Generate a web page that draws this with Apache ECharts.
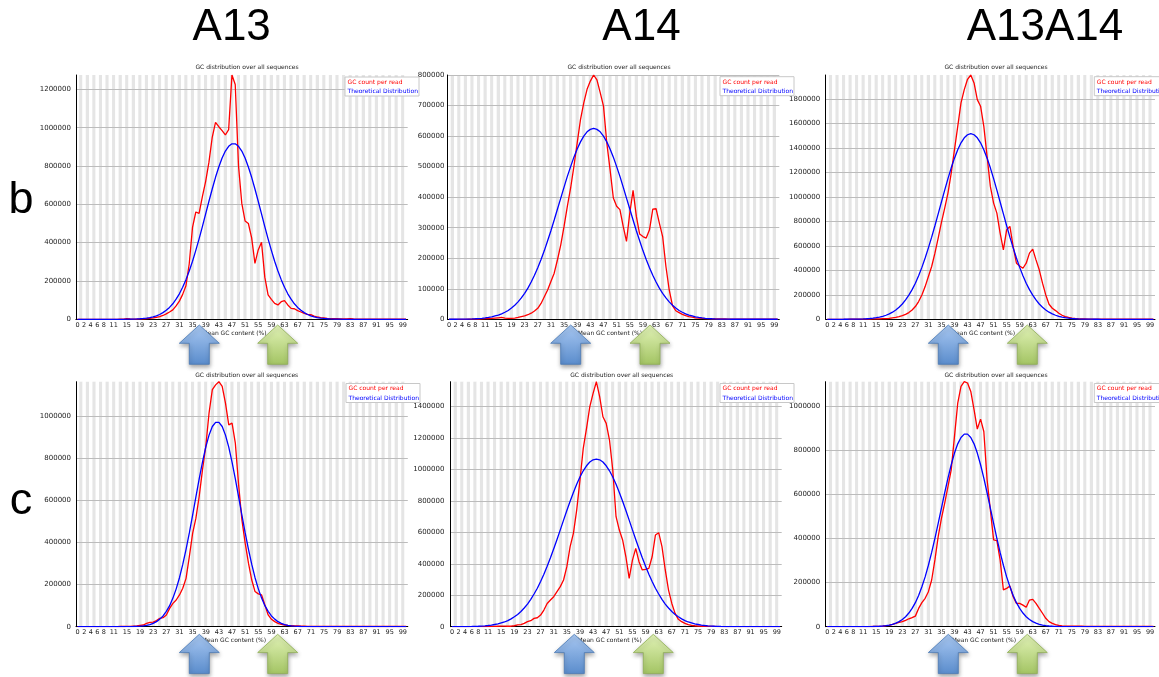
<!DOCTYPE html>
<html><head><meta charset="utf-8">
<script src="https://cdn.jsdelivr.net/npm/echarts@6/dist/echarts.min.js"></script>
<style>html,body{margin:0;padding:0;background:#fff}#c{width:1159px;height:677px}</style>
</head><body><div id="c"></div><script>
// ---------------- DATA ----------------
const gcCategories = [0,1,2,3,4,5,6,7,8,9,10,11,12,13,14,15,16,17,18,19,20,21,22,23,24,25,26,27,28,29,30,31,32,33,34,35,36,37,38,39,40,41,42,43,44,45,46,47,48,49,50,51,52,53,54,55,56,57,58,59,60,61,62,63,64,65,66,67,68,69,70,71,72,73,74,75,76,77,78,79,80,81,82,83,84,85,86,87,88,89,90,91,92,93,94,95,96,97,98,99,100];
const xTickLabels = [0,2,4,6,8,11,15,19,23,27,31,35,39,43,47,51,55,59,63,67,71,75,79,83,87,91,95,99];
const columnHeaders = ['A13','A14','A13A14'];
const rowLabels = ['b','c'];
const seriesNames = ['GC count per read','Theoretical Distribution'];
const chartTitle = 'GC distribution over all sequences';
const xAxisName = 'Mean GC content (%)';

const b_A13_gc = [0,0,0,0,0,0,0,0,0,0,
 0,0,0,500,1000,4000,2000,1000,1000,2000,
 2000,3000,5000,7000,10000,14000,20000,28000,38000,49000,
 70000,95000,130000,175000,290000,480000,560000,553000,640000,720000,
 820000,950000,1028000,1005000,985000,962000,990000,1275000,1225000,800000,
 605000,513000,500000,425000,292000,362000,402000,220000,127000,104000,
 83000,75000,92000,97000,75000,57000,55000,45000,38000,31000,
 26000,24000,17000,12000,9000,7000,5000,4000,3000,3000,
 2000,2000,2000,4000,2000,1000,1000,1000,1000,1000,
 1000,1000,1000,1000,1000,1000,1000,1000,1000,1000,1000];
const b_A13_theo = [0,0,0,0,0,0,0,0,0,0,
 0,0,0,0,0,500,800,1300,1900,2900,
 4300,6300,9000,13000,18000,25000,35000,47000,62000,81000,
 105000,133000,167000,207000,252000,303000,360000,420000,484000,550000,
 616000,680000,741000,795000,842000,878000,903000,916000,916000,903000,
 878000,842000,795000,741000,680000,616000,550000,484000,420000,360000,
 303000,252000,207000,167000,133000,105000,81000,62000,47000,35000,
 25000,18000,13000,9000,6300,4300,2900,1900,1300,800,
 500,0,0,0,0,0,0,0,0,0,
 0,0,0,0,0,0,0,0,0,0,0];
const b_A14_gc = [0,0,0,0,0,0,500,500,1000,1000,
 1500,2000,2500,3000,4000,5000,6000,4000,3000,3000,
 4000,6000,9000,11000,15000,20000,27000,36000,52000,74000,
 96000,124000,151000,195000,244000,304000,370000,430000,501000,578000,
 654000,709000,753000,780000,800000,784000,742000,698000,578000,490000,
 397000,370000,359000,304000,255000,348000,422000,337000,279000,271000,
 266000,293000,361000,362000,315000,271000,173000,96000,45000,28000,
 22000,16000,12000,9000,7000,5000,4000,3000,2000,2000,
 1500,1500,1000,1000,1000,500,500,500,500,500,
 500,500,500,500,500,500,500,500,500,500,500];
const b_A14_theo = [100,100,200,300,400,600,900,1300,1800,2400,
 3300,4500,6000,8000,11000,14000,18000,23000,29000,37000,
 46000,57000,70000,85000,102000,122000,144000,169000,196000,225000,
 257000,290000,325000,361000,397000,433000,468000,500000,531000,558000,
 581000,600000,614000,622000,625000,622000,614000,600000,581000,558000,
 531000,500000,468000,433000,397000,361000,325000,290000,257000,225000,
 196000,169000,144000,122000,102000,85000,70000,57000,46000,37000,
 29000,23000,18000,14000,11000,8000,6000,4500,3300,2400,
 1800,1300,900,600,400,300,200,100,100,100,
 100,100,100,100,100,100,100,100,100,100,100];
const b_A13A14_gc = [0,0,0,0,0,0,0,500,500,1000,
 1000,1500,2000,2500,3000,4000,4000,5000,6000,8000,
 12000,16000,22000,30000,40000,55000,76000,104000,145000,199000,
 267000,349000,431000,540000,663000,791000,908000,1031000,1194000,1385000,
 1576000,1767000,1876000,1960000,1995000,1930000,1794000,1740000,1576000,1331000,
 1085000,949000,867000,704000,567000,731000,758000,594000,458000,436000,
 417000,458000,540000,573000,485000,404000,295000,199000,123000,90000,
 71000,49000,33000,22000,15000,10000,7000,5000,4000,3000,
 2000,2000,2000,2000,2000,1000,1000,1000,1000,1000,
 1000,1000,1000,1000,1000,1000,1000,1000,1000,1000,1000];
const b_A13A14_theo = [100,100,100,200,200,300,500,700,1000,1500,
 2200,3200,4600,6600,9300,13000,18000,24000,33000,44000,
 58000,76000,98000,125000,158000,197000,242000,295000,356000,424000,
 500000,583000,671000,764000,861000,958000,1055000,1149000,1237000,1316000,
 1385000,1441000,1482000,1507000,1516000,1507000,1482000,1441000,1385000,1316000,
 1237000,1149000,1055000,958000,861000,764000,671000,583000,500000,424000,
 356000,295000,242000,197000,158000,125000,98000,76000,58000,44000,
 33000,24000,18000,13000,9300,6600,4600,3200,2200,1500,
 1000,700,500,300,200,200,100,100,100,100,
 100,100,100,100,100,100,100,100,100,100,100];
const c_A13_gc = [0,0,0,0,0,0,0,0,0,0,
 0,500,500,1000,1000,1500,2000,3000,4000,6000,
 8000,16000,21000,22000,29000,40000,43000,56000,87000,111000,
 127000,151000,183000,230000,333000,444000,516000,619000,746000,857000,
 1016000,1127000,1150000,1165000,1143000,1063000,960000,968000,873000,675000,
 508000,397000,302000,222000,167000,156000,151000,103000,56000,35000,
 24000,16000,11000,8000,6000,5000,4000,4000,3000,3000,
 2000,1000,1000,1000,1000,1000,1000,1000,1000,1000,
 1000,1000,1000,1000,1000,1000,1000,1000,1000,1000,
 1000,1000,1000,1000,1000,1000,1000,1000,1000,1000,1000];
const c_A13_theo = [100,100,100,100,100,100,100,100,100,100,
 100,100,100,100,200,300,500,900,1500,2500,
 4100,6600,10000,16000,24000,36000,51000,73000,100000,136000,
 180000,233000,296000,368000,446000,531000,617000,703000,783000,854000,
 911000,952000,972000,972000,952000,911000,854000,783000,703000,617000,
 531000,446000,368000,296000,233000,180000,136000,100000,73000,51000,
 36000,24000,16000,10000,6600,4100,2500,1500,900,500,
 300,200,100,100,100,100,100,100,100,100,
 100,100,100,100,100,100,100,100,100,100,
 100,100,100,100,100,100,100,100,100,100,100];
const c_A14_gc = [0,0,0,0,0,0,0,0,0,500,
 1000,1000,1500,2000,3000,4000,4000,3000,3000,6000,
 11000,13000,21000,32000,38000,53000,57000,74000,106000,148000,
 170000,191000,223000,255000,297000,382000,509000,594000,742000,933000,
 1135000,1262000,1400000,1485000,1559000,1464000,1336000,1294000,1188000,997000,
 700000,615000,552000,445000,308000,424000,498000,414000,361000,365000,
 371000,445000,583000,598000,509000,361000,233000,148000,85000,47000,
 32000,21000,13000,9000,6000,4000,3000,2000,2000,2000,
 2000,1000,1000,1000,1000,1000,1000,1000,1000,1000,
 1000,1000,1000,1000,1000,1000,1000,1000,1000,1000,1000];
const c_A14_theo = [200,300,400,500,800,1100,1500,2100,3000,4100,
 5600,7600,10000,14000,18000,24000,30000,39000,50000,63000,
 78000,97000,119000,144000,174000,208000,245000,288000,334000,385000,
 439000,496000,555000,616000,678000,739000,798000,854000,906000,953000,
 992000,1024000,1048000,1062000,1067000,1062000,1048000,1024000,992000,953000,
 906000,854000,798000,739000,678000,616000,555000,496000,439000,385000,
 334000,288000,245000,208000,174000,144000,119000,97000,78000,63000,
 50000,39000,30000,24000,18000,14000,10000,7600,5600,4100,
 3000,2100,1500,1100,800,500,400,300,200,100,
 100,100,100,100,100,100,100,100,100,100,100];
const c_A13A14_gc = [0,0,0,0,0,0,0,0,0,0,
 0,0,0,500,1000,1000,1500,2000,5000,6000,
 11000,15000,20000,23000,29000,36000,41000,48000,83000,109000,
 129000,159000,212000,303000,409000,492000,561000,636000,712000,864000,
 1015000,1091000,1112000,1106000,1068000,985000,897000,942000,886000,667000,
 530000,394000,391000,303000,167000,174000,185000,136000,106000,106000,
 98000,88000,121000,124000,106000,83000,61000,38000,23000,15000,
 9000,6000,4000,3000,2000,2000,2000,2000,2000,1000,
 1000,1000,1000,1000,1000,1000,1000,1000,1000,1000,
 1000,1000,1000,1000,1000,1000,1000,1000,1000,1000,1000];
const c_A13A14_theo = [100,100,100,100,100,100,100,100,100,100,
 100,200,300,500,800,1300,2000,3100,4800,7300,
 11000,16000,23000,33000,45000,62000,83000,109000,142000,181000,
 226000,279000,337000,401000,469000,538000,608000,674000,735000,788000,
 830000,859000,874000,874000,859000,830000,788000,735000,674000,608000,
 538000,469000,401000,337000,279000,226000,181000,142000,109000,83000,
 62000,45000,33000,23000,16000,11000,7300,4800,3100,2000,
 1300,800,500,300,200,100,100,100,100,100,
 100,100,100,100,100,100,100,100,100,100,
 100,100,100,100,100,100,100,100,100,100,100];

// ---------------- LAYOUT ----------------
const panels = [
 {gc:b_A13_gc, theo:b_A13_theo, max:1275000, step:200000, left:75.9, top:75, w:331.8, h:244.3, lm:5, tx:247, ty:67, nx:234.5, ny:333.3, lx:345, ly:77, ax:[199.3,277.7], ay:325},
 {gc:b_A14_gc, theo:b_A14_theo, max:800000, step:100000, left:447.4, top:75, w:331.9, h:244.3, lm:3, tx:619, ty:67, nx:610, ny:333.3, lx:720, ly:76.7, ax:[570.7,650], ay:325},
 {gc:b_A13A14_gc, theo:b_A13A14_theo, max:1995000, step:200000, left:825.7, top:75, w:329.3, h:244.3, lm:5.5, tx:996, ty:67, nx:983, ny:333.3, lx:1094.3, ly:76.7, ax:[948.3,1027.3], ay:325},
 {gc:c_A13_gc, theo:c_A13_theo, max:1165000, step:200000, left:76, top:381.7, w:331.8, h:245, lm:5, tx:246.7, ty:375, nx:234, ny:640.7, lx:346, ly:383.5, ax:[199.3,277.7], ay:634.3},
 {gc:c_A14_gc, theo:c_A14_theo, max:1559000, step:200000, left:450.4, top:381.7, w:331.3, h:245, lm:6, tx:621.7, ty:375, nx:609.7, ny:640.7, lx:720, ly:383.5, ax:[574.3,653.3], ay:634.3},
 {gc:c_A13A14_gc, theo:c_A13A14_theo, max:1112000, step:200000, left:825.7, top:381.7, w:329.3, h:245, lm:5.5, tx:996, ty:375, nx:984, ny:640.7, lx:1094.3, ly:383.5, ax:[948.3,1027.3], ay:634.3}
];
const FONT = 'DejaVu Sans';

const option = {animation:false, backgroundColor:'#ffffff', grid:[], xAxis:[], yAxis:[], series:[], graphic:[]};
const G = [];

panels.forEach((p, i) => {
  option.grid.push({left:p.left, top:p.top, width:p.w, height:p.h, containLabel:false});
  option.xAxis.push({
    type:'category', gridIndex:i, data:gcCategories, boundaryGap:true, z:0,
    axisLine:{show:true, lineStyle:{color:'#000', width:1}},
    axisTick:{show:false, interval:0},
    axisLabel:{interval:(idx, val) => xTickLabels.indexOf(Number(val)) >= 0, fontSize:6.5, fontFamily:FONT, color:'#222', margin:2.5},
    splitLine:{show:false},
    splitArea:{show:true, interval:0, areaStyle:{color:['#ffffff','#e5e5e5']}}
  });
  option.yAxis.push({
    type:'value', gridIndex:i, min:0, max:p.max, interval:p.step, z:1,
    axisLine:{show:true, lineStyle:{color:'#000', width:1}},
    axisTick:{show:false},
    axisLabel:{formatter:v => (v % p.step === 0 ? String(v) : ''), fontSize:7, fontFamily:FONT, color:'#222', margin:p.lm},
    splitLine:{show:true, showMinLine:false, showMaxLine:(p.max % p.step === 0), lineStyle:{color:'#bcbcbc', width:1}}
  });
  option.series.push({type:'line', name:seriesNames[0], xAxisIndex:i, yAxisIndex:i, data:p.gc, symbol:'none', z:3,
    lineStyle:{color:'#ff0000', width:1.3}, itemStyle:{color:'#ff0000'}});
  option.series.push({type:'line', name:seriesNames[1], xAxisIndex:i, yAxisIndex:i, data:p.theo, symbol:'none', z:4,
    lineStyle:{color:'#0000ff', width:1.3}, itemStyle:{color:'#0000ff'}});

  // title & axis name
  G.push({type:'text', x:p.tx, y:p.ty, z:50, style:{text:chartTitle, fontSize:6, fontFamily:FONT, fill:'#222', align:'center', verticalAlign:'middle'}});
  G.push({type:'text', x:p.nx, y:p.ny, z:50, style:{text:xAxisName, fontSize:6, fontFamily:FONT, fill:'#222', align:'center', verticalAlign:'middle'}});
  // legend box
  G.push({type:'group', x:p.lx, y:p.ly, z:60, children:[
    {type:'rect', shape:{x:0, y:0, width:74, height:19}, style:{fill:'#ffffff', stroke:'#c8c8c8', lineWidth:1}, z:60},
    {type:'text', x:2.5, y:5.3, z:61, style:{text:seriesNames[0], fontSize:6, fontFamily:FONT, fill:'#ff0000', verticalAlign:'middle'}},
    {type:'text', x:2.5, y:14.8, z:61, style:{text:seriesNames[1], fontSize:6, fontFamily:FONT, fill:'#0000ff', verticalAlign:'middle'}}
  ]});
});

function arrow(cx, ty, top, bottom, stroke) {
  return {type:'polygon', z:80,
    shape:{points:[[cx, ty],[cx+20, ty+18.3],[cx+10, ty+18.3],[cx+10, ty+39.3],[cx-10, ty+39.3],[cx-10, ty+18.3],[cx-20, ty+18.3]]},
    style:{fill:{type:'linear', x:0, y:0, x2:0, y2:1, colorStops:[{offset:0, color:top},{offset:1, color:bottom}]},
      stroke:stroke, lineWidth:0.8, shadowBlur:4, shadowOffsetY:2.5, shadowOffsetX:0.5, shadowColor:'rgba(0,0,0,0.35)'}};
}
panels.forEach(p => {
  G.push(arrow(p.ax[0], p.ay, '#a9c8f2', '#5a8ccc', '#4a7ab5'));
  G.push(arrow(p.ax[1], p.ay, '#e2f3b8', '#a3c463', '#8fae55'));
});

// headers
const headerX = [231.7, 641.5, 1045];
columnHeaders.forEach((t, i) => G.push({type:'text', x:headerX[i], y:28, z:90, style:{text:t, fontSize:44, fontFamily:'Liberation Sans', fill:'#000', align:'center', verticalAlign:'middle'}}));
const rowY = [200.4, 501.5];
rowLabels.forEach((t, i) => G.push({type:'text', x:21, y:rowY[i], z:90, style:{text:t, fontSize:45, fontFamily:'Liberation Sans', fill:'#000', align:'center', verticalAlign:'middle'}}));

option.graphic = {elements:G};
const chart = echarts.init(document.getElementById('c'), null, {renderer:'canvas'});
chart.setOption(option);
</script></body></html>
